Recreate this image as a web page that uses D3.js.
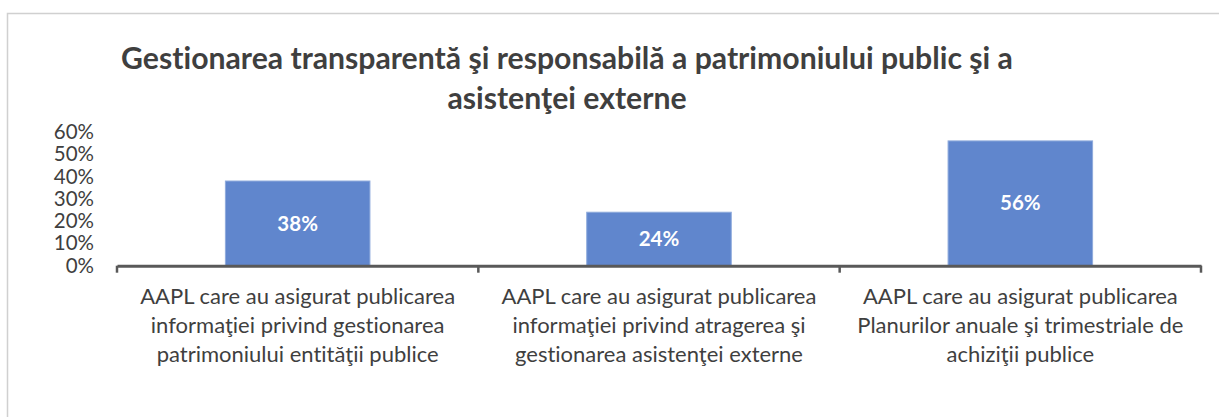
<!DOCTYPE html>
<html>
<head>
<meta charset="utf-8">
<script src="https://cdn.jsdelivr.net/npm/d3@7"></script>
<style>
  body { margin: 0; background: #fff; }
  svg { display: block; font-family: Lato, "Open Sans", sans-serif; font-variant-ligatures: none; }
</style>
</head>
<body>
<div id="chart"></div>
<script>

var titleLines = ["Gestionarea transparentă şi responsabilă a patrimoniului public şi a",
                  "asistenţei externe"];

var categories = ["patrimoniu", "asistenta", "achizitii"];

var categoryLabels = [
  ["AAPL care au asigurat publicarea", "informaţiei privind gestionarea", "patrimoniului entităţii publice"],
  ["AAPL care au asigurat publicarea", "informaţiei privind atragerea şi", "gestionarea asistenţei externe"],
  ["AAPL care au asigurat publicarea", "Planurilor anuale şi trimestriale de", "achiziţii publice"]
];

var values = [0.38, 0.24, 0.56];

var yTicks = [0, 0.1, 0.2, 0.3, 0.4, 0.5, 0.6];

var width = 1219, height = 417;
var textColor = "#3f3f3f";

var svg = d3.select("#chart")
  .append("svg")
  .attr("width", width)
  .attr("height", height);

// chart frame, runs off the right and bottom of the picture
svg.append("rect")
  .attr("x", 7.5)
  .attr("y", 13.5)
  .attr("width", width)
  .attr("height", height)
  .attr("fill", "none")
  .attr("stroke", "#d0d0d0")
  .attr("stroke-width", 1.5);

var title = svg.append("text")
  .attr("text-anchor", "middle")
  .attr("fill", textColor)
  .style("font-weight", "bold")
  .style("font-size", "30.2px");

title.selectAll("tspan")
  .data(titleLines)
  .enter().append("tspan")
  .attr("x", 567)
  .attr("y", function(d, i) { return 69 + i * 40; })
  .text(function(d) { return d; });

var x = d3.scaleBand()
  .domain(categories)
  .range([117, 1201])
  .paddingInner(0.6)
  .paddingOuter(0.3);

var y = d3.scaleLinear()
  .domain([0, 0.6])
  .range([265.7, 132]);

// y axis, labels only
var yAxis = svg.append("g")
  .attr("transform", "translate(94,0)")
  .call(d3.axisLeft(y).tickValues(yTicks).tickFormat(d3.format(".0%")).tickSize(0).tickPadding(0));

yAxis.select(".domain").remove();
yAxis.selectAll("text")
  .attr("fill", textColor)
  .style("font-family", "Lato, sans-serif")
  .style("font-size", "20.5px");

// bars
svg.selectAll(".bar")
  .data(values)
  .enter().append("rect")
  .attr("class", "bar")
  .attr("x", function(d, i) { return x(categories[i]); })
  .attr("y", function(d) { return y(d); })
  .attr("width", x.bandwidth())
  .attr("height", function(d) { return y(0) - y(d); })
  .attr("fill", "#6086cd")
  .attr("stroke", "#8eaadc")
  .attr("stroke-width", 1);

svg.selectAll(".value")
  .data(values)
  .enter().append("text")
  .attr("class", "value")
  .attr("x", function(d, i) { return x(categories[i]) + x.bandwidth() / 2; })
  .attr("y", function(d) { return (y(0) + y(d)) / 2; })
  .attr("dy", "0.35em")
  .attr("text-anchor", "middle")
  .attr("fill", "#fff")
  .style("font-weight", "bold")
  .style("font-size", "20.5px")
  .text(function(d) { return d3.format(".0%")(d); });

// x axis line
var xAxis = svg.append("g")
  .attr("transform", "translate(0," + y(0) + ")")
  .call(d3.axisBottom(x).tickSize(0).tickSizeOuter(0).tickFormat(""));

xAxis.select(".domain")
  .attr("stroke", "#595959")
  .attr("stroke-width", 3);

// excel style ticks between the categories
var bounds = d3.range(categories.length + 1).map(function(i) { return x.range()[0] + i * x.step(); });

xAxis.selectAll(".bound")
  .data(bounds)
  .enter().append("line")
  .attr("class", "bound")
  .attr("x1", function(d) { return d; })
  .attr("x2", function(d) { return d; })
  .attr("y1", 0)
  .attr("y2", 7)
  .attr("stroke", "#595959")
  .attr("stroke-width", 2.5);

var catLabel = svg.selectAll(".cat")
  .data(categoryLabels)
  .enter().append("text")
  .attr("class", "cat")
  .attr("text-anchor", "middle")
  .attr("fill", textColor)
  .style("font-size", "22px");

catLabel.selectAll("tspan")
  .data(function(d, i) { return d.map(function(t) { return {t: t, c: categories[i]}; }); })
  .enter().append("tspan")
  .attr("x", function(d) { return x(d.c) + x.bandwidth() / 2; })
  .attr("y", function(d, j) { return 304 + j * 29; })
  .text(function(d) { return d.t; });

</script>
</body>
</html>
